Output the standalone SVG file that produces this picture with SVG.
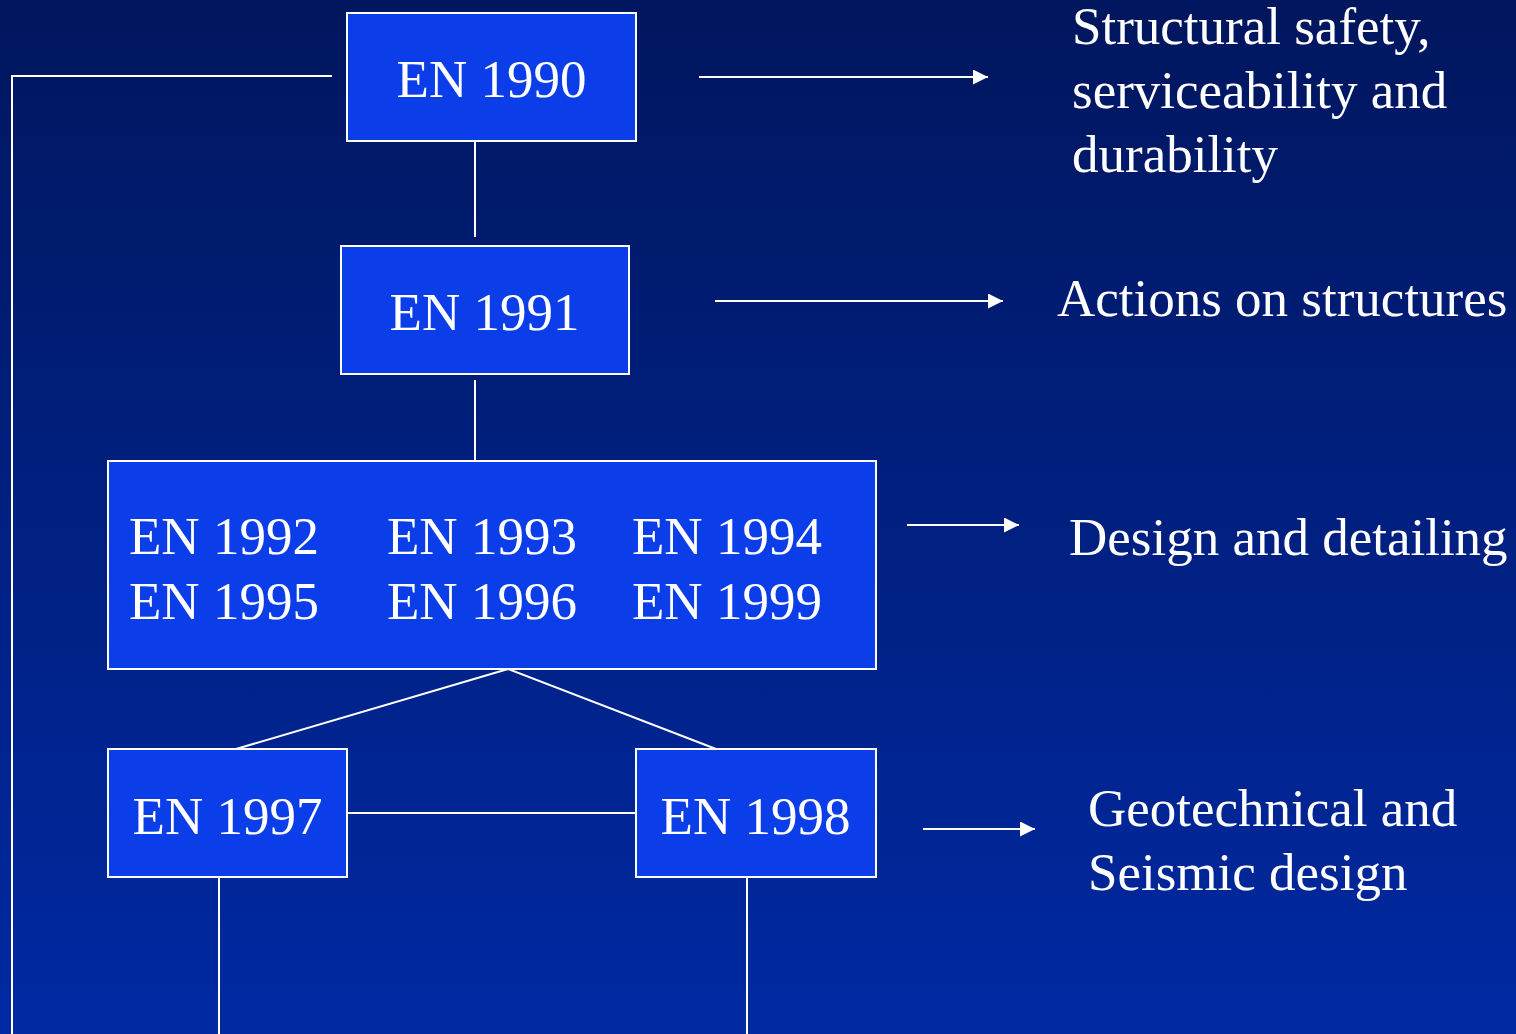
<svg xmlns="http://www.w3.org/2000/svg" width="1516" height="1034" viewBox="0 0 1516 1034">
<defs>
<linearGradient id="bg" x1="0" y1="0" x2="0" y2="1">
<stop offset="0" stop-color="#00165e"/>
<stop offset="1" stop-color="#0029a2"/>
</linearGradient>
<marker id="ah" viewBox="0 0 15 15" refX="15" refY="7.5" markerWidth="15" markerHeight="15" markerUnits="userSpaceOnUse" orient="auto">
<path d="M0,0 L15,7.5 L0,15 Z" fill="#fff"/>
</marker>
<style>
.box{fill:#0b3de8;stroke:#fff;stroke-width:2}
.t{font-family:"Liberation Serif","Times New Roman",serif;font-size:53px;fill:#fff}
.c{stroke:#fff;stroke-width:2;fill:none}
.a{marker-end:url(#ah)}
</style>
</defs>
<rect width="1516" height="1034" fill="url(#bg)"/>
<g id="connectors">
<polyline class="c" points="332,76 12,76 12,1034"/>
<line class="c" x1="475" y1="141" x2="475" y2="237"/>
<line class="c" x1="475" y1="380" x2="475" y2="461"/>
<line class="c" x1="508" y1="669" x2="236" y2="749"/>
<line class="c" x1="508" y1="669" x2="716" y2="749"/>
<line class="c" x1="347" y1="813" x2="636" y2="813"/>
<line class="c" x1="219" y1="877" x2="219" y2="1034"/>
<line class="c" x1="747" y1="877" x2="747" y2="1034"/>
<line class="c a" x1="699" y1="77" x2="988" y2="77"/>
<line class="c a" x1="715" y1="301" x2="1003" y2="301"/>
<line class="c a" x1="907" y1="525" x2="1019" y2="525"/>
<line class="c a" x1="923" y1="829" x2="1035" y2="829"/>
</g>
<g id="en1990">
<rect class="box" x="347" y="13" width="289" height="128"/>
<text class="t" x="491.5" y="97" text-anchor="middle">EN 1990</text>
</g>
<g id="en1991">
<rect class="box" x="341" y="246" width="288" height="128"/>
<text class="t" x="484.5" y="330" text-anchor="middle">EN 1991</text>
</g>
<g id="en1992-1999">
<rect class="box" x="108" y="461" width="768" height="208"/>
<text class="t" x="129" y="554">EN 1992</text>
<text class="t" x="387" y="554">EN 1993</text>
<text class="t" x="632" y="554">EN 1994</text>
<text class="t" x="129" y="619">EN 1995</text>
<text class="t" x="387" y="619">EN 1996</text>
<text class="t" x="632" y="619">EN 1999</text>
</g>
<g id="en1997">
<rect class="box" x="108" y="749" width="239" height="128"/>
<text class="t" x="227.5" y="834" text-anchor="middle">EN 1997</text>
</g>
<g id="en1998">
<rect class="box" x="636" y="749" width="240" height="128"/>
<text class="t" x="755.5" y="834" text-anchor="middle">EN 1998</text>
</g>
<g id="label-1990">
<text class="t" x="1072" y="44">Structural safety,</text>
<text class="t" x="1072" y="108">serviceability and</text>
<text class="t" x="1072" y="172">durability</text>
</g>
<g id="label-1991">
<text class="t" x="1057" y="316">Actions on structures</text>
</g>
<g id="label-design">
<text class="t" x="1069" y="555">Design and detailing</text>
</g>
<g id="label-geo">
<text class="t" x="1088" y="826">Geotechnical and</text>
<text class="t" x="1088" y="890">Seismic design</text>
</g>
</svg>
